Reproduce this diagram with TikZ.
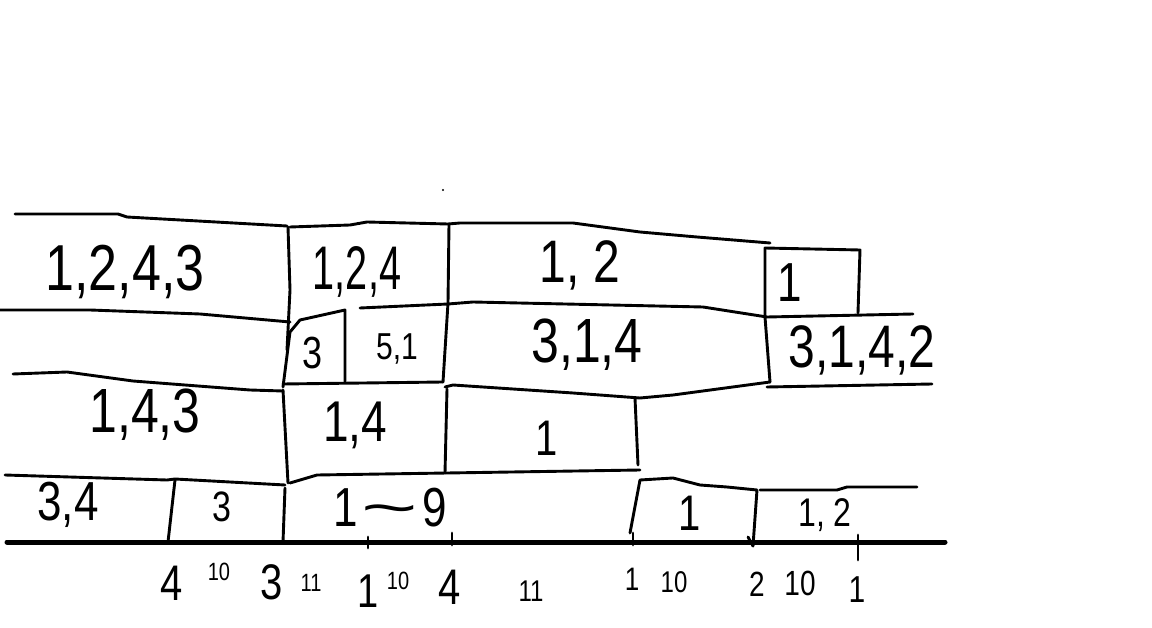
\documentclass[tikz,border=0pt]{standalone}
\usepackage{fontspec}
\usepackage{graphicx}
\setmainfont{Liberation Sans}
\newcommand\hwtxt[1]{\scalebox{1}[1.25]{#1}}
\newcommand\hwtall[1]{\scalebox{0.9}[1.4]{#1}}
\newcommand\hwtilde{\scalebox{2.2}[1]{\textasciitilde}}
\begin{document}
\begin{tikzpicture}[x=1pt,y=-1pt,
  stroke/.style={line width=2.9pt,line cap=round,line join=round},
  axisline/.style={line width=5pt,line cap=round},
  lbl/.style={inner sep=0pt,font=\fontsize{#1}{#1}\selectfont},
]
\useasboundingbox[fill=white] (0,0) rectangle (1152,628);

% ---- row 1 ----
\draw[stroke] (15,214) -- (118,214) -- (127,217) -- (287,226);
\draw[stroke] (288,227) -- (290,290) -- (287,350);
\draw[stroke] (290,227) -- (350,225) -- (367,222) -- (448,224) -- (460,223) -- (573,223) -- (640,232) -- (697,237) -- (770,243);
\draw[stroke] (449,224) -- (448,303) -- (443,382);
\draw[stroke] (765,317) -- (765,248) -- (860,250) -- (858,313);

% ---- row 2 ----
\draw[stroke] (0,310) -- (90,310) -- (200,314) -- (290,322);
\draw[stroke] (283,387) -- (290,332) -- (300,320) -- (345,310) -- (345,382);
\draw[stroke] (360,308) -- (448,304) -- (473,302) -- (703,307) -- (767,317) -- (913,314);
\draw[stroke] (765,317) -- (770,382);
\draw[stroke] (283,384) -- (443,382);
\draw[stroke] (445,387) -- (453,385) -- (573,393) -- (640,398) -- (673,395) -- (770,382);
\draw[stroke] (767,387) -- (932,384);

% ---- row 3 ----
\draw[stroke] (13,374) -- (67,372) -- (133,381) -- (250,390) -- (283,391);
\draw[stroke] (283,390) -- (288,483);
\draw[stroke] (285,488) -- (283,542);
\draw[stroke] (447,389) -- (445,473);
\draw[stroke] (635,398) -- (638,465);
\draw[stroke] (290,483) -- (317,475) -- (447,473) -- (640,470);

% ---- row 4 ----
\draw[stroke] (5,475) -- (167,480) -- (175,479) -- (285,485);
\draw[stroke] (175,480) -- (168,542);
\draw[stroke] (630,533) -- (640,480) -- (673,478) -- (700,485) -- (727,487) -- (757,490) -- (753,546);
\draw[stroke] (748,537) -- (753,546);
\draw[stroke] (760,490) -- (837,490) -- (847,487) -- (917,487);

% ---- axis & ticks ----
\draw[axisline] (7,542) -- (945,542);
\draw[stroke] (368,537) -- (368,548);
\draw[stroke] (452,533) -- (452,545);
\draw[stroke] (633,533) -- (633,545);
\draw[stroke] (858,535) -- (858,560);
\fill (443,190) circle (1.2pt);

% ---- labels in boxes ----
\node[lbl=52] (a1) at (125,272) {\hwtxt{1,2,4,3}};
\node[lbl=44] (a2) at (357,272) {\hwtall{1,2,4}};
\node[lbl=48] (a3) at (580,265) {\hwtxt{1, 2}};
\node[lbl=44] (a4) at (790,283) {\hwtxt{1}};
\node[lbl=36] (b1) at (313,353) {\hwtxt{3}};
\node[lbl=30] (b2) at (397,349) {\hwtxt{5,1}};
\node[lbl=50] (b3) at (587,345) {\hwtxt{3,1,4}};
\node[lbl=48] (b4) at (862,350) {\hwtxt{3,1,4,2}};
\node[lbl=50] (c1) at (145,415) {\hwtxt{1,4,3}};
\node[lbl=46] (c2) at (355,425) {\hwtxt{1,4}};
\node[lbl=40] (c3) at (547,438) {\hwtxt{1}};
\node[lbl=44] (d1) at (68,505) {\hwtxt{3,4}};
\node[lbl=34] (d2) at (222,507) {\hwtxt{3}};
\node[lbl=44] (d3) at (390,508) {\hwtxt{1\hspace{4pt}\hwtilde\hspace{4pt}9}};
\node[lbl=40] (d4) at (690,513) {\hwtxt{1}};
\node[lbl=32] (d5) at (825,515) {\hwtxt{1, 2}};

% ---- axis labels ----
\node[lbl=40] (x1) at (172,583) {\hwtxt{4}};
\node[lbl=20] (x1n) at (219,572) {\hwtxt{10}};
\node[lbl=40] (x2) at (272,582) {\hwtxt{3}};
\node[lbl=20] (x2n) at (311,583) {\hwtxt{11}};
\node[lbl=38] (x3) at (368,591) {\hwtxt{1}};
\node[lbl=20] (x3n) at (398,581) {\hwtxt{10}};
\node[lbl=40] (x4) at (450,587) {\hwtxt{4}};
\node[lbl=24] (x4n) at (531,591) {\hwtxt{11}};
\node[lbl=26] (x5) at (632,579) {\hwtxt{1}};
\node[lbl=24] (x5n) at (674,582) {\hwtxt{10}};
\node[lbl=28] (x6) at (757,584) {\hwtxt{2}};
\node[lbl=28] (x6n) at (800,583) {\hwtxt{10}};
\node[lbl=30] (x7) at (857,590) {\hwtxt{1}};
\end{tikzpicture}
\end{document}
